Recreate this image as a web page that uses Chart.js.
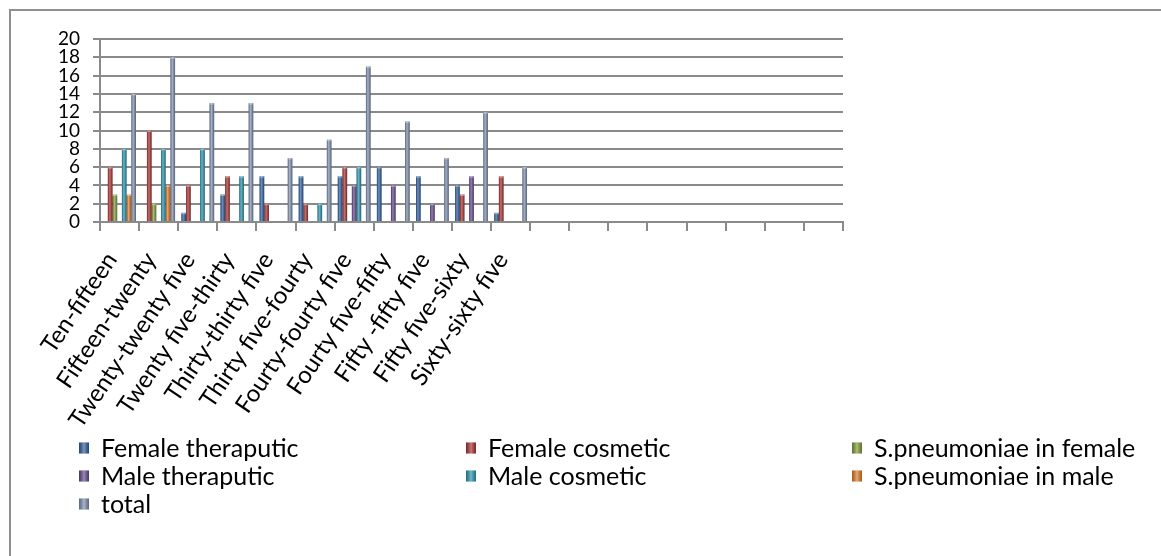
<!DOCTYPE html>
<html>
<head>
<meta charset="utf-8">
<script src="https://cdn.jsdelivr.net/npm/chart.js@4/dist/chart.umd.min.js"></script>
<style>
  html, body { margin: 0; padding: 0; background: #ffffff; }
  #wrap { position: relative; width: 1161px; height: 556px; }
</style>
</head>
<body>
<div id="wrap"><canvas id="c" width="1161" height="556"></canvas></div>
<script>
// Age bands (the axis keeps room for eight more, unused bands)
const ageGroups = [
  'Ten-fifteen', 'Fifteen-twenty', 'Twenty-twenty five', 'Twenty five-thirty',
  'Thirty-thirty five', 'Thirty five-fourty', 'Fourty-fourty five', 'Fourty five-fifty',
  'Fifty -fifty five', 'Fifty five-sixty', 'Sixty-sixty five',
  '', '', '', '', '', '', '', ''
];

// Counts per age band
const femaleTheraputic   = [0, 0, 1, 3, 5, 5, 5, 6, 5, 4, 1];
const femaleCosmetic     = [6, 10, 4, 5, 2, 2, 6, 0, 0, 3, 5];
const pneumoniaeFemale   = [3, 2, 0, 0, 0, 0, 0, 0, 0, 0, 0];
const maleTheraputic     = [0, 0, 0, 0, 0, 0, 4, 4, 2, 5, 0];
const maleCosmetic       = [8, 8, 8, 5, 0, 2, 6, 0, 0, 0, 0];
const pneumoniaeMale     = [3, 4, 0, 0, 0, 0, 0, 0, 0, 0, 0];
const totalCount         = [14, 18, 13, 13, 7, 9, 17, 11, 7, 12, 6];

const seriesNames = [
  'Female theraputic', 'Female cosmetic', 'S.pneumoniae in female',
  'Male theraputic', 'Male cosmetic', 'S.pneumoniae in male', 'total'
];
const seriesData = [
  femaleTheraputic, femaleCosmetic, pneumoniaeFemale,
  maleTheraputic, maleCosmetic, pneumoniaeMale, totalCount
];
const seriesColors = ['#2f5e9e', '#a83330', '#7f9b3b', '#644a8c', '#2a93ad', '#e07a26', '#7d8eae'];

const FONT = 'Lato, "Open Sans", sans-serif';
const GRID = '#8a8a8a';

// Shaded look for every drawn bar, plus the outer frame and a three-column legend
const decor = {
  id: 'decor',
  beforeDraw(chart) {
    const ctx = chart.ctx;
    ctx.save();
    ctx.strokeStyle = '#8f8f8f';
    ctx.lineWidth = 2;
    ctx.strokeRect(10, 10, 1300, 700);
    ctx.restore();
  },
  afterDatasetsDraw(chart) {
    const ctx = chart.ctx;
    ctx.save();
    chart.data.datasets.forEach((ds, i) => {
      chart.getDatasetMeta(i).data.forEach(bar => {
        const p = bar.getProps(['x', 'y', 'base', 'width'], true);
        if (Math.abs(p.base - p.y) < 0.5) return;
        const l = p.x - p.width / 2;
        const g = ctx.createLinearGradient(l, 0, l + p.width, 0);
        g.addColorStop(0, 'rgba(0,0,0,0.28)');
        g.addColorStop(0.4, 'rgba(255,255,255,0.30)');
        g.addColorStop(1, 'rgba(0,0,0,0.32)');
        ctx.fillStyle = g;
        ctx.fillRect(l, p.y, p.width, p.base - p.y);
        ctx.fillStyle = 'rgba(255,255,255,0.35)';
        ctx.fillRect(l, p.y, p.width, 1.5);
      });
    });
    ctx.restore();
  },
  afterDraw(chart) {
    const ctx = chart.ctx;
    const colX = [79, 466, 852];
    const rowY = [448, 476, 504];
    ctx.save();
    ctx.font = '25px ' + FONT;
    ctx.textBaseline = 'middle';
    ctx.textAlign = 'left';
    chart.data.datasets.forEach((ds, i) => {
      const x = colX[i % 3], y = rowY[Math.floor(i / 3)];
      const w = 10, h = 11;
      ctx.fillStyle = ds.backgroundColor;
      ctx.fillRect(x, y - h / 2, w, h);
      const g = ctx.createLinearGradient(x, 0, x + w, 0);
      g.addColorStop(0, 'rgba(0,0,0,0.25)');
      g.addColorStop(0.5, 'rgba(255,255,255,0.35)');
      g.addColorStop(1, 'rgba(0,0,0,0.25)');
      ctx.fillStyle = g;
      ctx.fillRect(x, y - h / 2, w, h);
      ctx.fillStyle = '#000000';
      ctx.fillText(ds.label, x + 22, y + 1);
    });
    ctx.restore();
  }
};

new Chart(document.getElementById('c'), {
  type: 'bar',
  data: {
    labels: ageGroups,
    datasets: seriesNames.map((name, i) => ({
      label: name,
      data: seriesData[i],
      backgroundColor: seriesColors[i],
      borderWidth: 0,
      categoryPercentage: 0.84,
      barPercentage: 1.0
    }))
  },
  options: {
    responsive: false,
    animation: false,
    events: [],
    layout: { padding: { left: 0, top: 39, right: 318, bottom: 0 } },
    plugins: { legend: { display: false }, tooltip: { enabled: false } },
    scales: {
      x: {
        afterFit(scale) { scale.height = 334; },
        grid: { display: true, drawOnChartArea: false, drawTicks: true, tickLength: 9, color: GRID, lineWidth: 2, offset: true },
        border: { display: true, color: GRID, width: 2 },
        ticks: {
          autoSkip: false, minRotation: 56, maxRotation: 56, padding: 16, labelOffset: -8,
          color: '#000000', font: { family: FONT, size: 24 }
        }
      },
      y: {
        min: 0, max: 20,
        afterFit(scale) { scale.width = 100; },
        grid: { color: GRID, lineWidth: 2, drawTicks: true, tickLength: 7 },
        border: { display: true, color: GRID, width: 2 },
        ticks: {
          stepSize: 2, autoSkip: false, padding: 13,
          color: '#000000', font: { family: FONT, size: 19 }
        }
      }
    }
  },
  plugins: [decor]
});
</script>
</body>
</html>
